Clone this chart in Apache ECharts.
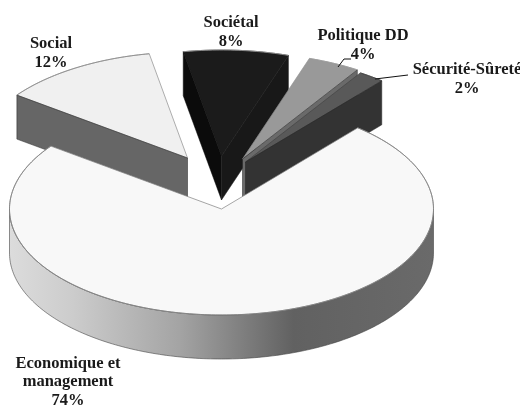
<!DOCTYPE html>
<html>
<head>
<meta charset="utf-8">
<style>html,body{margin:0;padding:0;background:#fff}#c{width:520px;height:405px}</style>
<script src="https://cdn.jsdelivr.net/npm/echarts@6/dist/echarts.min.js"></script>
</head>
<body>
<div id="c"></div>
<script>
// Data
const names = ['Economique et\nmanagement', 'Social', 'Sociétal', 'Politique DD', 'Sécurité-Sûreté'];
const shares = [74, 12, 8, 4, 2];

// Appearance
const topColors = ['#f8f8f8', '#f0f0f0', '#1b1b1b', '#999999', '#595959'];
const wallStart = [null, null, '#0b0b0b', null, null];
const wallEnd = [null, '#666666', '#181818', '#6a6a6a', '#333333'];
const topStroke = ['#808080', '#8c8c8c', '#111111', '#8c8c8c', '#444444'];
const rimStroke = ['#808080', '#8c8c8c', '#a0a0a0', '#a0a0a0', '#444444'];
const explodeX = [0, -34, 0, 21, 24];
const explodeY = [0, -51, -53, -50, -47];
const labelX = [68, 51, 231, 363, 467];
const labelY = [382, 53, 32, 45, 79];
const leaders = [null, null, null, [[338, 67], [344, 59], [351, 59]], [[375, 79], [408, 75]]];
const drawOrder = [4, 1, 0, 2, 3]; // z rank per slice index
const CX = 221.5, CY = 209, RX = 212, RY = 106, DEPTH = 44, START_DEG = 40;

const total = shares.reduce((a, b) => a + b, 0);

function pt(deg, i, dz) {
  const r = deg * Math.PI / 180;
  return [CX + explodeX[i] + RX * Math.sin(r), CY + explodeY[i] - RY * Math.cos(r) + (dz || 0)];
}
function apex(i, dz) { return [CX + explodeX[i], CY + explodeY[i] + (dz || 0)]; }

function renderItem(params, api) {
  const i = params.dataIndex;
  let a0 = START_DEG;
  for (let k = 0; k < i; k++) a0 += shares[k] / total * 360;
  const a1 = a0 + api.value(0) / total * 360;
  const z = drawOrder[i] * 10;
  const kids = [];

  const poly = (points, fill, stroke, lw, zz) => ({
    type: 'polygon', shape: { points },
    style: { fill, stroke: stroke || null, lineWidth: lw || 0, lineJoin: 'round' },
    z2: z + (zz || 0), silent: true
  });

  if (wallStart[i]) {
    kids.push(poly([pt(a0, i), pt(a0, i, DEPTH), apex(i, DEPTH), apex(i)], wallStart[i], '#050505', 0.5, 1));
  }
  if (wallEnd[i]) {
    // cut wall on the side that faces the viewer
    const a = i === 1 ? a0 : a1;
    kids.push(poly([pt(a, i), pt(a, i, DEPTH), apex(i, DEPTH), apex(i)], wallEnd[i], '#222', 0.5, 3));
  }

  if (i === 0) {
    // front rim of the large slice
    const from = Math.max(a0, 90), to = Math.min(a1, 270);
    const rim = [];
    for (let d = from; d <= to; d += 1) rim.push(pt(d, i));
    for (let d = to; d >= from; d -= 1) rim.push(pt(d, i, DEPTH));
    kids.push(poly(rim, {
      type: 'linear', x: 1, y: 0, x2: 0, y2: 0,
      colorStops: [
        { offset: 0, color: '#6a6a6a' }, { offset: 0.33, color: '#616161' },
        { offset: 0.6, color: '#a4a4a4' }, { offset: 0.85, color: '#cccccc' },
        { offset: 1, color: '#dcdcdc' }
      ]
    }, '#444', 0.6, 1));
  }

  const top = [apex(i)];
  const arc = [];
  const steps = Math.max(2, Math.ceil(a1 - a0));
  for (let s = 0; s <= steps; s++) {
    const p = pt(a0 + (a1 - a0) * s / steps, i);
    top.push(p);
    arc.push(p);
  }
  kids.push(poly(top, topColors[i], topStroke[i], 0.7, 2));
  kids.push({
    type: 'polyline', shape: { points: arc },
    style: { stroke: rimStroke[i], lineWidth: 0.8, fill: null }, z2: z + 4, silent: true
  });

  if (leaders[i]) {
    kids.push({
      type: 'polyline', shape: { points: leaders[i] },
      style: { stroke: '#111', lineWidth: 1, fill: null }, z2: 100, silent: true
    });
  }
  kids.push({
    type: 'text', x: labelX[i], y: labelY[i], silent: true, z2: 101,
    style: {
      text: names[i] + '\n' + api.value(0) + '%',
      fill: '#1a1a1a', align: 'center', verticalAlign: 'middle',
      font: 'bold 16.5px "Liberation Serif", serif', lineHeight: 18.5
    }
  });
  return { type: 'group', children: kids };
}

const chart = echarts.init(document.getElementById('c'), null, { renderer: 'canvas', width: 520, height: 405 });
chart.setOption({
  backgroundColor: '#ffffff',
  animation: false,
  series: [{
    type: 'custom',
    coordinateSystem: 'none',
    renderItem,
    data: shares.map(v => [v])
  }]
});
</script>
</body>
</html>
